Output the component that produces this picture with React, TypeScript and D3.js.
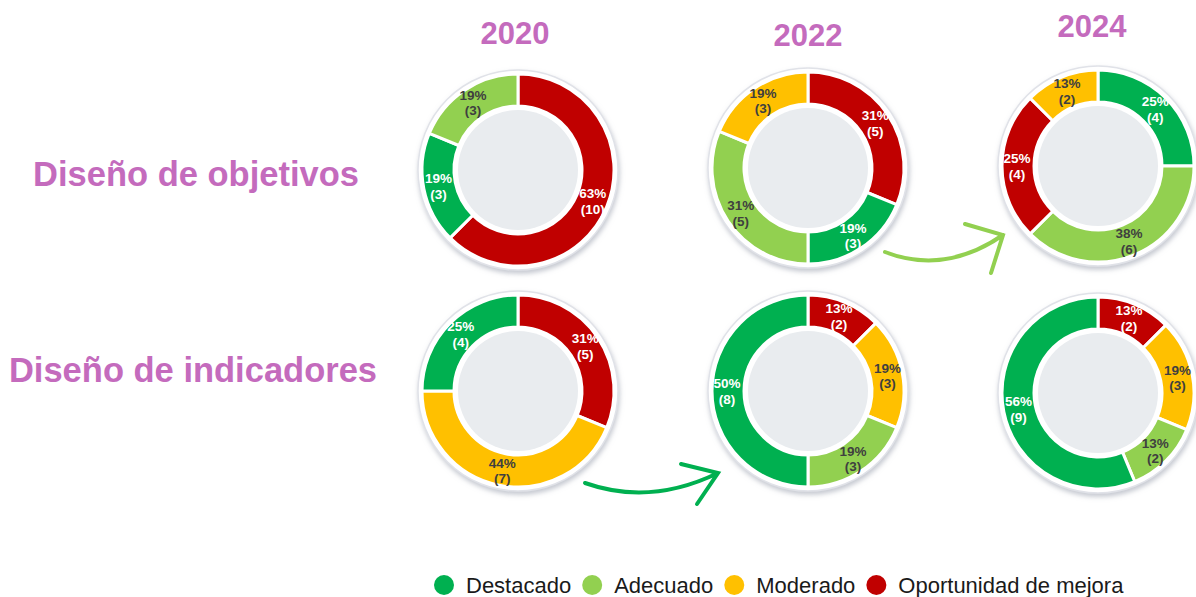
import React, { useEffect, useRef } from "react";
import * as d3 from "d3";

const years = ["2020", "2022", "2024"];
const rowLabels = ["Diseño de objetivos", "Diseño de indicadores"];
const categories = ["Destacado", "Adecuado", "Moderado", "Oportunidad de mejora"];
const catColors = ["#00b050", "#92d050", "#ffc000", "#c00000"];
const catText = ["#ffffff", "#3f3f3f", "#3f3f3f", "#ffffff"];

// slice order (category index, clockwise from 12 o'clock) and counts per year
const objetivosOrder = [[3, 0, 1], [3, 0, 1, 2], [0, 1, 3, 2]];
const objetivosCounts = [[10, 3, 3], [5, 3, 5, 3], [4, 6, 4, 2]];
const indicadoresOrder = [[3, 2, 0], [3, 2, 1, 0], [3, 2, 1, 0]];
const indicadoresCounts = [[5, 7, 4], [2, 3, 3, 8], [2, 3, 2, 9]];

const W = 1196;
const H = 597;
const FONT = "'Liberation Sans', Arial, sans-serif";
const PURPLE = "#c46bbd";

const App = () => {
  const svgRef = useRef<SVGSVGElement>(null);

  useEffect(() => {
    const svg = d3.select(svgRef.current);
    svg.selectAll("*").remove();

    const defs = svg.append("defs");
    const f = defs.append("filter").attr("id", "halo")
      .attr("x", "-20%").attr("y", "-20%").attr("width", "140%").attr("height", "140%");
    f.append("feDropShadow").attr("dx", 1).attr("dy", 3).attr("stdDeviation", 2.5)
      .attr("flood-color", "#9ea3b0").attr("flood-opacity", 0.6);

    const colX = [518, 808, 1098];
    const rowCy = [[170, 168, 166], [391, 391, 393]];
    const rOut = 96;
    const rIn = 64;

    const pie = d3.pie<number>().sort(null).value((d) => d);
    const arc = d3.arc<d3.PieArcDatum<number>>().innerRadius(rIn).outerRadius(rOut);
    const labelArc = d3.arc<d3.PieArcDatum<number>>().innerRadius(81).outerRadius(81);

    const rows = [
      { order: objetivosOrder, counts: objetivosCounts },
      { order: indicadoresOrder, counts: indicadoresCounts },
    ];

    rows.forEach((row, ri) => {
      row.counts.forEach((counts, ci) => {
        const total = d3.sum(counts);
        const g = svg.append("g")
          .attr("transform", `translate(${colX[ci]},${rowCy[ri][ci]})`);
        g.append("circle").attr("r", 100).attr("fill", "#fff")
          .attr("stroke", "#e0e2e8").attr("stroke-width", 1.5)
          .attr("filter", "url(#halo)");
        const arcs = pie(counts);
        g.selectAll("path.slice")
          .data(arcs)
          .join("path")
          .attr("class", "slice")
          .attr("d", arc)
          .attr("fill", (d, i) => catColors[row.order[ci][i]])
          .attr("stroke", "#fff")
          .attr("stroke-width", 3)
          .attr("stroke-linejoin", "miter");
        g.append("circle").attr("r", rIn - 2).attr("fill", "#fff");
        g.append("circle").attr("r", rIn - 4).attr("fill", "#e9ecef");

        arcs.forEach((d, i) => {
          const [lx, ly] = labelArc.centroid(d);
          const cat = row.order[ci][i];
          const t = g.append("text")
            .attr("x", lx).attr("y", ly)
            .attr("text-anchor", "middle")
            .attr("font-family", FONT)
            .attr("font-weight", "bold")
            .attr("font-size", 13.5)
            .attr("fill", catText[cat]);
          t.append("tspan").attr("x", lx).attr("dy", "-0.2em")
            .text(`${Math.round((d.data / total) * 100)}%`);
          t.append("tspan").attr("x", lx).attr("dy", "1.15em")
            .text(`(${d.data})`);
        });
      });
    });

    // year titles
    const yearY = [44, 46, 37];
    const yearX = [515, 808, 1092];
    years.forEach((y, i) => {
      svg.append("text")
        .attr("x", yearX[i]).attr("y", yearY[i])
        .attr("text-anchor", "middle")
        .attr("font-family", FONT).attr("font-weight", "bold")
        .attr("font-size", 31).attr("fill", PURPLE)
        .text(y);
    });

    // row labels
    const rowLabelX = [196, 193];
    const rowLabelY = [186, 382];
    rowLabels.forEach((l, i) => {
      svg.append("text")
        .attr("x", rowLabelX[i]).attr("y", rowLabelY[i])
        .attr("text-anchor", "middle")
        .attr("font-family", FONT).attr("font-weight", "bold")
        .attr("font-size", 34.5).attr("fill", PURPLE)
        .text(l);
    });

    // arrows
    const arrows = [
      { from: [885, 252], ctrl: [945, 275], to: [1003, 235], a1: [965, 224], a2: [991, 273], color: "#92d050" },
      { from: [585, 483], ctrl: [650, 506], to: [718, 473], a1: [681, 464], a2: [697, 504], color: "#00b050" },
    ];
    arrows.forEach((a) => {
      const p = d3.path();
      p.moveTo(a.from[0], a.from[1]);
      p.quadraticCurveTo(a.ctrl[0], a.ctrl[1], a.to[0], a.to[1]);
      p.moveTo(a.a1[0], a.a1[1]);
      p.lineTo(a.to[0], a.to[1]);
      p.lineTo(a.a2[0], a.a2[1]);
      svg.append("path").attr("d", p.toString())
        .attr("fill", "none").attr("stroke", a.color)
        .attr("stroke-width", 4).attr("stroke-linecap", "round")
        .attr("stroke-linejoin", "miter");
    });

    // legend
    const legend = svg.append("g");
    let x = 444;
    categories.forEach((c, i) => {
      legend.append("circle").attr("cx", x).attr("cy", 585).attr("r", 10)
        .attr("fill", catColors[i]);
      const t = legend.append("text")
        .attr("x", x + 22).attr("y", 593)
        .attr("font-family", FONT).attr("font-size", 22)
        .attr("fill", "#1a1a1a")
        .text(c);
      const w = (t.node() as SVGTextElement).getComputedTextLength();
      x += 22 + w + 21;
    });
  }, []);

  return (
    <svg
      ref={svgRef}
      width={W}
      height={H}
      style={{ position: "absolute", left: 0, top: 0, background: "#fff" }}
    />
  );
};

export default App;
